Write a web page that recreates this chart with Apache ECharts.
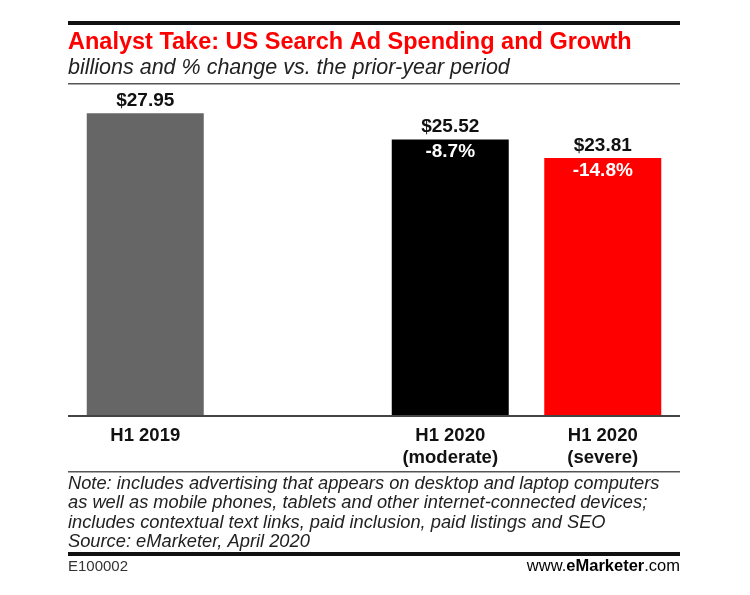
<!DOCTYPE html>
<html>
<head>
<meta charset="utf-8">
<script src="https://cdn.jsdelivr.net/npm/echarts@6/dist/echarts.min.js"></script>
<style>
html,body{margin:0;padding:0;background:#fff;}
#chart{width:750px;height:595px;}
</style>
</head>
<body>
<div id="chart"></div>
<script>
const categories = ['H1 2019', '', 'H1 2020\n(moderate)', 'H1 2020\n(severe)'];
const spending = [27.95, null, 25.52, 23.81];
const changes = [null, null, -8.7, -14.8];
const barColors = ['#666666', '#ffffff', '#000000', '#ff0000'];

const titleText = 'Analyst Take: US Search Ad Spending and Growth';
const subtitleText = 'billions and % change vs. the prior-year period';
const noteLines = [
  'Note: includes advertising that appears on desktop and laptop computers',
  'as well as mobile phones, tablets and other internet-connected devices;',
  'includes contextual text links, paid inclusion, paid listings and SEO',
  'Source: eMarketer, April 2020'
];
const chartId = 'E100002';

const chart = echarts.init(document.getElementById('chart'), null, {renderer: 'canvas'});

const LEFT = 68, RIGHT = 680;
const FONT = '"Liberation Sans", Arial, sans-serif';

const option = {
  backgroundColor: '#ffffff',
  animation: false,
  grid: {left: 69, right: 750 - 679, top: 91, bottom: 595 - 416, containLabel: false},
  xAxis: {
    type: 'category',
    data: categories,
    axisLine: {show: false},
    axisTick: {show: false},
    axisLabel: {
      interval: 0,
      margin: 9,
      fontFamily: FONT,
      fontWeight: 'bold',
      fontSize: 18.5,
      lineHeight: 22,
      color: '#111'
    }
  },
  yAxis: {
    type: 'value',
    min: 0,
    max: 30,
    show: false,
    splitLine: {show: false}
  },
  series: [
    {
      type: 'bar',
      barWidth: 117,
      barGap: '-100%',
      data: spending.map((v, i) => ({value: v, itemStyle: {color: barColors[i]}})),
      label: {
        show: true,
        position: 'top',
        distance: 3,
        fontFamily: FONT,
        fontWeight: 'bold',
        fontSize: 19,
        color: '#111',
        formatter: p => p.value == null ? '' : '$' + Number(p.value).toFixed(2)
      }
    },
    {
      type: 'bar',
      barWidth: 117,
      barGap: '-100%',
      silent: true,
      data: spending.map(v => v),
      itemStyle: {color: 'rgba(0,0,0,0)'},
      label: {
        show: true,
        position: 'insideTop',
        distance: 3,
        fontFamily: FONT,
        fontWeight: 'bold',
        fontSize: 19,
        color: '#ffffff',
        formatter: p => changes[p.dataIndex] == null ? '' : changes[p.dataIndex].toFixed(1) + '%'
      }
    }
  ],
  graphic: [
    {type: 'rect', shape: {x: LEFT, y: 21, width: RIGHT - LEFT, height: 4}, style: {fill: '#111'}},
    {type: 'text', left: LEFT, top: 31, style: {text: titleText, font: 'bold 23.5px ' + FONT, fill: '#ff0000'}},
    {type: 'text', left: LEFT, top: 57, style: {text: subtitleText, font: 'italic 21.5px ' + FONT, fill: '#222'}},
    {type: 'rect', shape: {x: LEFT, y: 83, width: RIGHT - LEFT, height: 1.5}, style: {fill: '#555'}},
    {type: 'rect', shape: {x: LEFT, y: 415, width: RIGHT - LEFT, height: 2}, style: {fill: '#444'}, z: 100},
    {type: 'rect', shape: {x: LEFT, y: 471, width: RIGHT - LEFT, height: 1.5}, style: {fill: '#555'}},
    {type: 'text', left: LEFT, top: 474, style: {text: noteLines.join('\n'), font: 'italic 18.3px ' + FONT, lineHeight: 19.5, fill: '#222'}},
    {type: 'rect', shape: {x: LEFT, y: 552, width: RIGHT - LEFT, height: 4}, style: {fill: '#111'}},
    {type: 'text', left: LEFT, top: 559, style: {text: chartId, font: '15px ' + FONT, fill: '#333'}},
    {type: 'text', right: 750 - RIGHT, top: 558, style: {
      text: '{a|www.}{e|e}{m|Marketer}{a|.com}',
      rich: {
        a: {fontFamily: FONT, fontSize: 16.5, color: '#333'},
        e: {fontFamily: FONT, fontSize: 16.5, fontWeight: 'bold', color: '#ff0000'},
        m: {fontFamily: FONT, fontSize: 16.5, fontWeight: 'bold', color: '#222'}
      }
    }}
  ]
};
chart.setOption(option);
</script>
</body>
</html>
